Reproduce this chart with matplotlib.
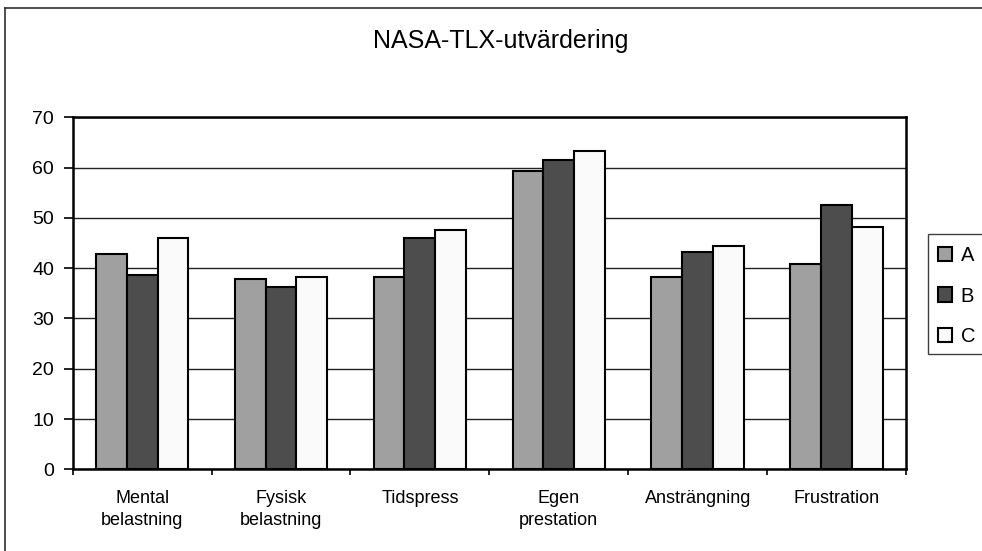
import matplotlib
matplotlib.use("Agg")
import matplotlib.pyplot as plt
import numpy as np
from matplotlib.patches import Rectangle
from matplotlib.lines import Line2D

plt.rcParams['font.family'] = ['Liberation Sans', 'DejaVu Sans']

categories = ["Mental\nbelastning", "Fysisk\nbelastning", "Tidspress",
              "Egen\nprestation", "Ansträngning", "Frustration"]
series_names = ["A", "B", "C"]
values_a = [42.8, 37.9, 38.3, 59.3, 38.3, 40.8]
values_b = [38.7, 36.2, 46.0, 61.6, 43.2, 52.5]
values_c = [46.0, 38.3, 47.6, 63.3, 44.5, 48.1]
y_ticks = [0, 10, 20, 30, 40, 50, 60, 70]

colors = ["#a0a0a0", "#4d4d4d", "#fafafa"]
W, H = 982, 551
fig = plt.figure(figsize=(W / 100, H / 100), dpi=100)

# outer chart frame (right/bottom edges run off the canvas)
fig.add_artist(Line2D([5 / W, 5 / W], [0, 1 - 8 / H], transform=fig.transFigure,
                      color="#303030", lw=1.2))
fig.add_artist(Line2D([5 / W, 1], [1 - 8 / H, 1 - 8 / H], transform=fig.transFigure,
                      color="#303030", lw=1.2))

left, right, top, bottom = 72.7, 906, 117.3, 469.3
ax = fig.add_axes([left / W, 1 - bottom / H, (right - left) / W, (bottom - top) / H])

x = np.arange(len(categories))
bw = 0.222
handles = []
for i, vals in enumerate([values_a, values_b, values_c]):
    bars = ax.bar(x + (i - 1) * bw, vals, width=bw, color=colors[i],
                  edgecolor="black", linewidth=1.5, zorder=3, label=series_names[i])
    handles.append(bars)

ax.set_xlim(-0.5, len(categories) - 0.5)
ax.set_ylim(0, 70)
ax.set_yticks(y_ticks)
ax.yaxis.grid(True, color="#222222", linewidth=1.0, zorder=0)
ax.tick_params(axis="y", direction="out", length=6.5, width=1.2, pad=7, labelsize=14)

ax.set_xticks(x)
ax.set_xticklabels(categories, fontsize=13, linespacing=1.4)
ax.tick_params(axis="x", which="major", length=0, pad=15)
ax.set_xticks(np.arange(len(categories) + 1) - 0.5, minor=True)
ax.tick_params(axis="x", which="minor", direction="out", length=4, width=1.2)

for s in ax.spines.values():
    s.set_linewidth(1.8)
    s.set_color("black")

fig.text(501 / W, 1 - 41 / H, "NASA-TLX-utvärdering", ha="center", va="center",
         fontsize=18)

# legend frame (runs off the right edge)
fig.add_artist(Rectangle((927.7 / W, 1 - 354 / H), 80 / W, 120 / H,
                         transform=fig.transFigure, facecolor="white",
                         edgecolor="#404040", linewidth=1.0))
fig.legend(handles=handles, labels=series_names, loc="center left",
           bbox_to_anchor=(937.7 / W, 1 - 296 / H), frameon=False, fontsize=14.5,
           handlelength=0.7, handleheight=0.7, handletextpad=0.45,
           labelspacing=1.08, borderpad=0, borderaxespad=0)

fig.savefig("out.png", dpi=100)
